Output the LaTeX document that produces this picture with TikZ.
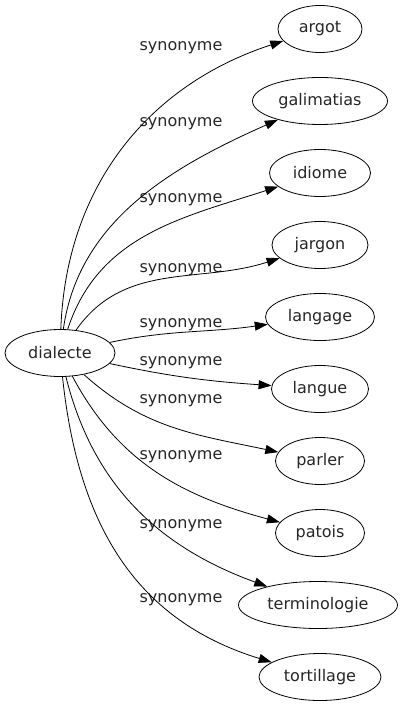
\documentclass[tikz,border=0pt]{standalone}
\usepackage{fontspec}
\setmainfont{DejaVu Sans}
\usetikzlibrary{shapes.geometric,arrows.meta}
\begin{document}
\begin{tikzpicture}[x=1pt,y=-1pt,
  word/.style={draw,ellipse,line width=0.8pt,inner sep=0pt,minimum height=47pt,text=black!85,font=\fontsize{16}{18}\selectfont},
  lbl/.style={font=\fontsize{16}{18}\selectfont,text=black!85,anchor=base,inner sep=0pt},
  syn/.style={line width=0.8pt,-{Triangle[length=13pt,width=9pt]}}]
\useasboundingbox (0,0) rectangle (406,707);
\node[word,minimum width=110pt] (d) at (60,353) {dialecte};
\node[word,minimum width=84pt]  (t1) at (320,29) {argot};
\node[word,minimum width=135pt] (t2) at (320,101) {galimatias};
\node[word,minimum width=101pt] (t3) at (320,173) {idiome};
\node[word,minimum width=96pt]  (t4) at (320,245) {jargon};
\node[word,minimum width=109pt] (t5) at (320,317) {langage};
\node[word,minimum width=97pt]  (t6) at (320,389) {langue};
\node[word,minimum width=89pt]  (t7) at (320,461) {parler};
\node[word,minimum width=89pt]  (t8) at (320,533) {patois};
\node[word,minimum width=159pt] (t9) at (318,605) {terminologie};
\node[word,minimum width=122pt] (t10) at (320,677) {tortillage};
\node[lbl] (l1) at (181,50) {synonyme};
\node[lbl] (l2) at (181,126) {synonyme};
\node[lbl] (l3) at (181,202) {synonyme};
\node[lbl] (l4) at (181,272) {synonyme};
\node[lbl] (l5) at (181,327) {synonyme};
\node[lbl] (l6) at (181,365) {synonyme};
\node[lbl] (l7) at (181,403) {synonyme};
\node[lbl] (l8) at (181,459) {synonyme};
\node[lbl] (l9) at (181,528) {synonyme};
\node[lbl] (l10) at (181,602) {synonyme};
\draw[syn] (d) to[out=88,in=198,looseness=1.0] (t1);
\draw[syn] (d) to[out=82,in=204,looseness=0.95] (t2);
\draw[syn] (d) to[out=72,in=198] (t3);
\draw[syn] (d) to[out=55,in=198] (t4);
\draw[syn] (d) to[out=12,in=188] (t5);
\draw[syn] (d) to[out=-12,in=176] (t6);
\draw[syn] (d) to[out=-42,in=168] (t7);
\draw[syn] (d) to[out=-62,in=165] (t8);
\draw[syn] (d) to[out=-76,in=160] (t9);
\draw[syn] (d) to[out=-84,in=163,looseness=1.05] (t10);
\end{tikzpicture}
\end{document}
